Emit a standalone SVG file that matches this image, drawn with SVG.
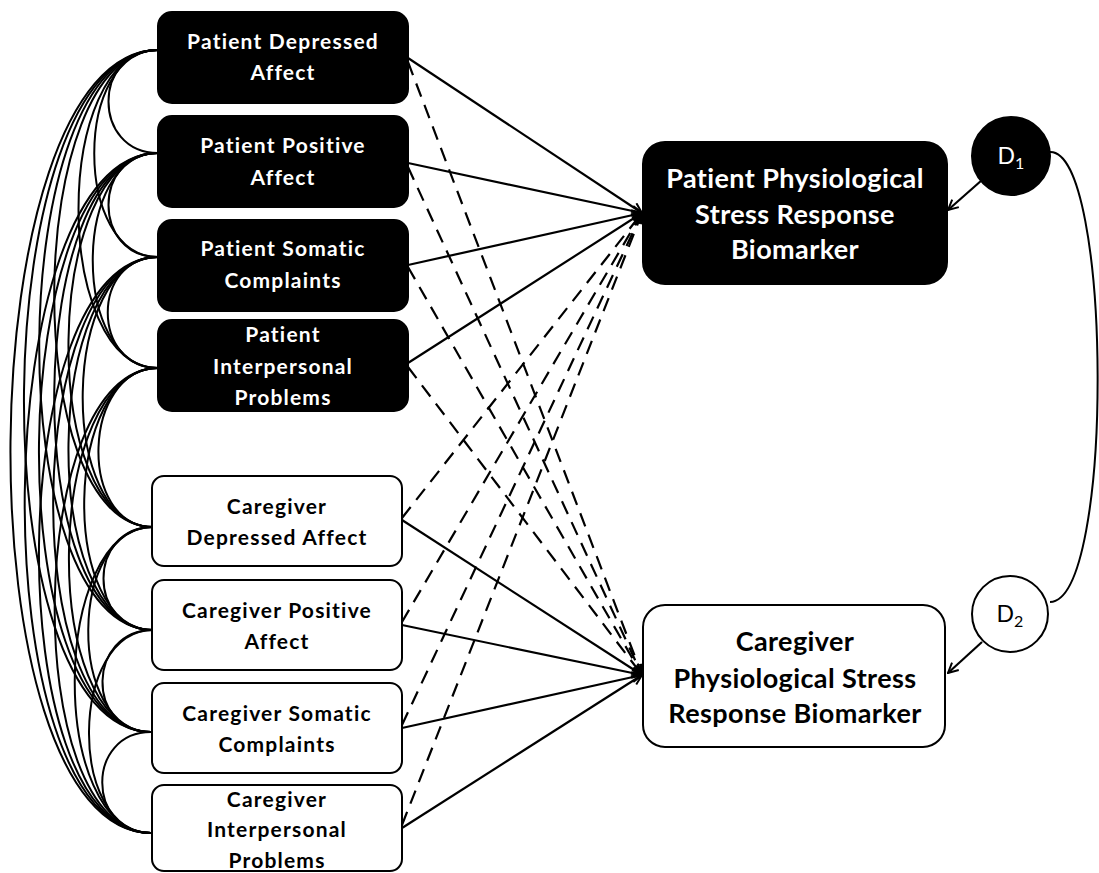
<svg xmlns="http://www.w3.org/2000/svg" width="1099" height="873" viewBox="0 0 1099 873">
<style>
.cv{fill:none;stroke:#000;stroke-width:2}
.sl{fill:none;stroke:#000;stroke-width:2.2}
.dl{fill:none;stroke:#000;stroke-width:2.2;stroke-dasharray:14 9}
.bk{fill:#000;stroke:#000;stroke-width:2}
.wh{fill:#fff;stroke:#000;stroke-width:2}
.t{font-family:Lato,"Liberation Sans",sans-serif;font-weight:bold;font-size:21px;letter-spacing:1.2px;text-anchor:middle}
.tb{font-family:Lato,"Liberation Sans",sans-serif;font-weight:bold;font-size:27px;letter-spacing:0.4px;text-anchor:middle}
.td{font-family:Lato,"Liberation Sans",sans-serif;font-size:23px;text-anchor:middle}
.w{fill:#fff}
.k{fill:#000}
</style>
<defs>
<marker id="arr" viewBox="0 0 12 12" refX="11" refY="6" markerWidth="12" markerHeight="12" orient="auto" markerUnits="userSpaceOnUse">
<path d="M1 1 L11 6 L1 11" fill="none" stroke="#000" stroke-width="2" style="stroke-dasharray:none"/>
</marker>
</defs>
<rect width="1099" height="873" fill="#fff"/>
<g id="connectors">
<g id="covariances">
<path class="cv" d="M158 50 C92 50 92 153 158 153"/>
<path class="cv" d="M158 50 C73 50 73 257 158 257"/>
<path class="cv" d="M158 50 C52 50 52 368 158 368"/>
<path class="cv" d="M158 50 C23 50 18 527 153 527"/>
<path class="cv" d="M158 50 C3 50 -2 630 153 630"/>
<path class="cv" d="M158 50 C-16 50 -23 732 151 732"/>
<path class="cv" d="M158 50 C-34 50 -41 833 151 833"/>
<path class="cv" d="M158 153 C92 153 92 257 158 257"/>
<path class="cv" d="M158 153 C71 153 71 368 158 368"/>
<path class="cv" d="M158 153 C42 153 37 527 153 527"/>
<path class="cv" d="M158 153 C23 153 18 630 153 630"/>
<path class="cv" d="M158 153 C4 153 -3 732 151 732"/>
<path class="cv" d="M158 153 C-15 153 -22 833 151 833"/>
<path class="cv" d="M158 257 C91 257 91 368 158 368"/>
<path class="cv" d="M158 257 C61 257 56 527 153 527"/>
<path class="cv" d="M158 257 C42 257 37 630 153 630"/>
<path class="cv" d="M158 257 C23 257 16 732 151 732"/>
<path class="cv" d="M158 257 C4 257 -3 833 151 833"/>
<path class="cv" d="M158 368 C82 368 77 527 153 527"/>
<path class="cv" d="M158 368 C63 368 58 630 153 630"/>
<path class="cv" d="M158 368 C44 368 37 732 151 732"/>
<path class="cv" d="M158 368 C25 368 18 833 151 833"/>
<path class="cv" d="M153 527 C87 527 87 630 153 630"/>
<path class="cv" d="M153 527 C68 527 66 732 151 732"/>
<path class="cv" d="M153 527 C50 527 48 833 151 833"/>
<path class="cv" d="M153 630 C87 630 85 732 151 732"/>
<path class="cv" d="M153 630 C69 630 67 833 151 833"/>
<path class="cv" d="M151 732 C86 732 86 833 151 833"/>
</g>
<g id="paths">
<line class="sl" x1="408" y1="58" x2="642" y2="213" marker-end="url(#arr)"/>
<line class="sl" x1="408" y1="163" x2="642" y2="213" marker-end="url(#arr)"/>
<line class="sl" x1="408" y1="265" x2="642" y2="213" marker-end="url(#arr)"/>
<line class="sl" x1="408" y1="363" x2="642" y2="213" marker-end="url(#arr)"/>
<line class="sl" x1="402" y1="520" x2="642" y2="675" marker-end="url(#arr)"/>
<line class="sl" x1="402" y1="625" x2="642" y2="675" marker-end="url(#arr)"/>
<line class="sl" x1="402" y1="728" x2="642" y2="675" marker-end="url(#arr)"/>
<line class="sl" x1="402" y1="828" x2="642" y2="675" marker-end="url(#arr)"/>
<line class="dl" x1="408" y1="62" x2="642" y2="675" marker-end="url(#arr)"/>
<line class="dl" x1="408" y1="167" x2="642" y2="675" marker-end="url(#arr)"/>
<line class="dl" x1="408" y1="267" x2="642" y2="675" marker-end="url(#arr)"/>
<line class="dl" x1="408" y1="367" x2="642" y2="675" marker-end="url(#arr)"/>
<line class="dl" x1="402" y1="518" x2="642" y2="213" marker-end="url(#arr)"/>
<line class="dl" x1="402" y1="622" x2="642" y2="213" marker-end="url(#arr)"/>
<line class="dl" x1="402" y1="725" x2="642" y2="213" marker-end="url(#arr)"/>
<line class="dl" x1="402" y1="825" x2="642" y2="213" marker-end="url(#arr)"/>
</g>
<g id="disturbances">
<line class="sl" x1="982" y1="180" x2="948" y2="210" marker-end="url(#arr)"/>
<line class="sl" x1="982" y1="642" x2="948" y2="673" marker-end="url(#arr)"/>
<path class="cv" d="M1050 152 C1112 150 1115 600 1050 602"/>
</g>
</g>
<g id="n1"><rect class="bk" x="158" y="12" width="250" height="91" rx="14"/><text class="t w" x="283" y="49">Patient Depressed</text><text class="t w" x="283" y="80">Affect</text></g>
<g id="n2"><rect class="bk" x="158" y="116" width="250" height="91" rx="14"/><text class="t w" x="283" y="153">Patient Positive</text><text class="t w" x="283" y="185">Affect</text></g>
<g id="n3"><rect class="bk" x="158" y="220" width="250" height="91" rx="14"/><text class="t w" x="283" y="256">Patient Somatic</text><text class="t w" x="283" y="288">Complaints</text></g>
<g id="n4"><rect class="bk" x="158" y="320" width="250" height="91" rx="14"/><text class="t w" x="283" y="342">Patient</text><text class="t w" x="283" y="374">Interpersonal</text><text class="t w" x="283" y="405">Problems</text></g>
<g id="n5"><rect class="wh" x="152" y="476" width="250" height="90" rx="12"/><text class="t k" x="277" y="514">Caregiver</text><text class="t k" x="277" y="545">Depressed Affect</text></g>
<g id="n6"><rect class="wh" x="152" y="580" width="250" height="90" rx="12"/><text class="t k" x="277" y="618">Caregiver Positive</text><text class="t k" x="277" y="649">Affect</text></g>
<g id="n7"><rect class="wh" x="152" y="683" width="250" height="90" rx="12"/><text class="t k" x="277" y="721">Caregiver Somatic</text><text class="t k" x="277" y="752">Complaints</text></g>
<g id="n8"><rect class="wh" x="152" y="785" width="250" height="86" rx="12"/><text class="t k" x="277" y="807">Caregiver</text><text class="t k" x="277" y="837">Interpersonal</text><text class="t k" x="277" y="868">Problems</text></g>
<g id="o1"><rect class="bk" x="643" y="142" width="304" height="142" rx="22"/><text class="tb w" x="795" y="188">Patient Physiological</text><text class="tb w" x="795" y="224">Stress Response</text><text class="tb w" x="795" y="259">Biomarker</text></g>
<g id="o2"><rect class="wh" x="643" y="605" width="302" height="142" rx="22"/><text class="tb k" x="795" y="651">Caregiver</text><text class="tb k" x="795" y="688">Physiological Stress</text><text class="tb k" x="795" y="723">Response Biomarker</text></g>
<g id="d1"><circle cx="1011" cy="156" r="39" fill="#000" stroke="#000" stroke-width="2"/><text class="td w" x="1011" y="164">D<tspan font-size="16" dy="5">1</tspan></text></g>
<g id="d2"><circle cx="1010" cy="614" r="38" fill="#fff" stroke="#000" stroke-width="2"/><text class="td k" x="1010" y="622">D<tspan font-size="16" dy="5">2</tspan></text></g>
</svg>
